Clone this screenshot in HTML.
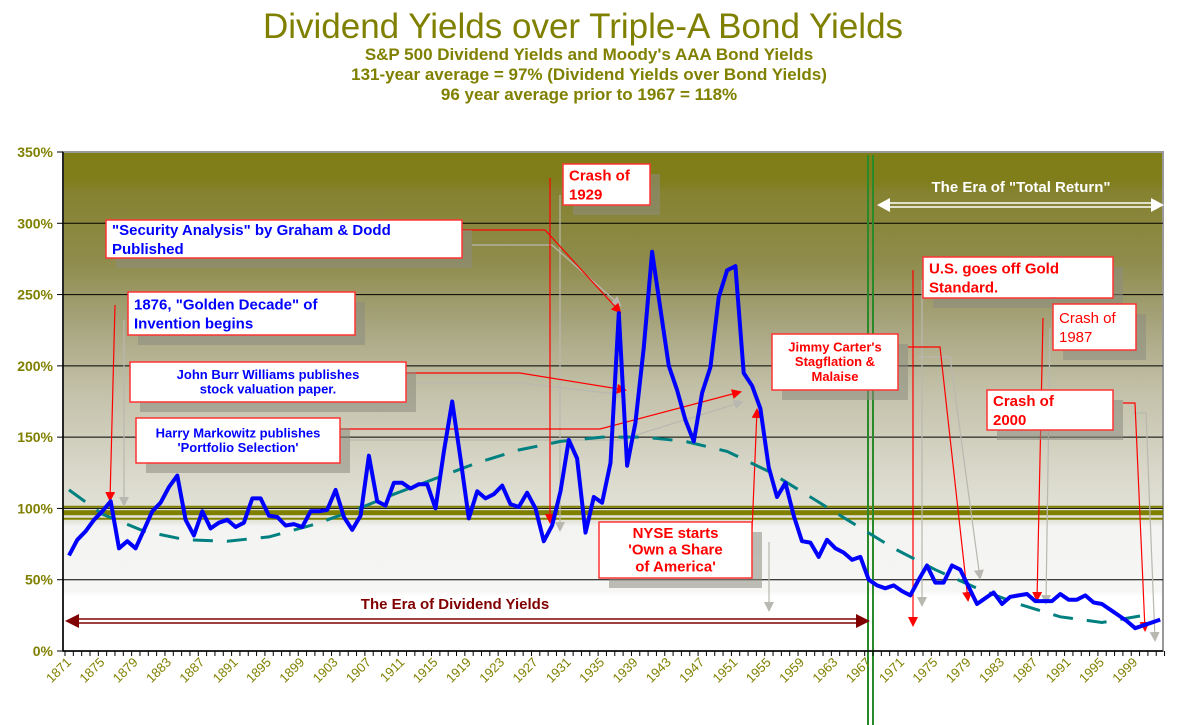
<!DOCTYPE html>
<html><head><meta charset="utf-8">
<style>
html,body{margin:0;padding:0;background:#fff;}
svg{display:block;font-family:"Liberation Sans",Arial,sans-serif;}
</style></head>
<body>
<svg id="chart" width="1178" height="725" viewBox="0 0 1178 725">
<defs>
<linearGradient id="bg" x1="0" y1="0" x2="0" y2="1">
<stop offset="0" stop-color="#7f7d15"/>
<stop offset="0.06" stop-color="#807e1c"/>
<stop offset="0.08" stop-color="#858230"/>
<stop offset="0.22" stop-color="#8f8c4c"/>
<stop offset="0.34" stop-color="#a6a37c"/>
<stop offset="0.48" stop-color="#c3c1a9"/>
<stop offset="0.62" stop-color="#d6d5c6"/>
<stop offset="0.74" stop-color="#e4e4db"/>
<stop offset="0.75" stop-color="#f3f3f1"/>
<stop offset="0.88" stop-color="#f6f6f4"/>
<stop offset="0.89" stop-color="#ffffff"/>
<stop offset="1" stop-color="#ffffff"/>
</linearGradient>
<marker id="ar" markerWidth="10" markerHeight="10" refX="8" refY="5" orient="auto" markerUnits="userSpaceOnUse"><path d="M0,0 L10,5 L0,10 z" fill="#ff0000"/></marker>
<marker id="ag" markerWidth="10" markerHeight="10" refX="8" refY="5" orient="auto" markerUnits="userSpaceOnUse"><path d="M0,0 L10,5 L0,10 z" fill="#b8b8b0"/></marker>
</defs>
<text x="583" y="38" text-anchor="middle" font-size="35" fill="#808000">Dividend Yields over Triple-A  Bond Yields</text>
<text x="589" y="60" text-anchor="middle" font-size="17" font-weight="bold" fill="#808000">S&amp;P 500 Dividend Yields and Moody's AAA Bond Yields</text>
<text x="589" y="80" text-anchor="middle" font-size="17" font-weight="bold" fill="#808000">131-year average = 97% (Dividend Yields over Bond Yields)</text>
<text x="589" y="100" text-anchor="middle" font-size="17" font-weight="bold" fill="#808000">96 year average prior to 1967 = 118%</text>
<rect x="63" y="152" width="1100" height="499" fill="url(#bg)" stroke="#999" stroke-width="2"/>
<g id="grid"></g>
<g id="bands"></g>
<g id="annot"></g>
<g id="series"></g>
<g id="axes"></g>
</svg>
<script>
const startYear = 1871;
const yieldRatio = [67,78,84,92,98,105,72,77,72,85,98,104,115,123,92,81,98,86,90,92,87,90,107,107,95,94,88,89,87,98,98,99,113,94,85,95,137,105,102,118,118,114,117,117,100,140,175,135,93,112,107,110,116,103,101,111,100,77,88,112,148,135,83,108,104,132,237,130,160,213,280,240,200,183,162,147,181,199,248,267,270,195,186,170,129,108,118,95,77,76,66,78,72,69,64,66,50,46,44,46,42,39,50,60,48,48,60,57,45,33,37,41,33,38,39,40,35,35,35,40,36,36,39,34,33,29,25,21,16,18,20,22];
const trendYears = [1871,1875,1880,1885,1890,1895,1900,1905,1910,1915,1920,1925,1930,1935,1940,1945,1950,1955,1960,1965,1970,1975,1980,1985,1990,1995,2000];
const trendVals = [113,96,84,78,77,80,88,98,110,121,132,141,147,150,150,147,140,126,108,90,72,57,44,33,24,20,25];
const yTicks = [0,50,100,150,200,250,300,350];
const yTickLabels = ["0%","50%","100%","150%","200%","250%","300%","350%"];
const xTickLabels = ["1871","1875","1879","1883","1887","1891","1895","1899","1903","1907","1911","1915","1919","1923","1927","1931","1935","1939","1943","1947","1951","1955","1959","1963","1967","1971","1975","1979","1983","1987","1991","1995","1999"];
const avgLines = [97];

const NS="http://www.w3.org/2000/svg";
const X0=65, STEP=8.33, Y0=651, YS=499/350;
function xOf(year){return X0+4+(year-startYear)*STEP;}
function yOf(v){return Y0-v*YS;}
function mk(tag,attrs,parent){const e=document.createElementNS(NS,tag);for(const k in attrs)e.setAttribute(k,attrs[k]);parent.appendChild(e);return e;}

const grid=document.getElementById('grid');
yTicks.forEach((v,i)=>{
  if(v>0&&v<350){const l=mk('line',{x1:63,x2:1163,y1:yOf(v),y2:yOf(v),stroke:'#000','stroke-width':1},grid);
  
  }
});
const bands=document.getElementById('bands');
avgLines.forEach(v=>{
  const y=yOf(v);
  const a=mk('rect',{x:63,y:y-2.5,width:1100,height:5,fill:'#808000'},bands);
  
  
  const b=mk('line',{x1:63,x2:1163,y1:y-6,y2:y-6,stroke:'#808000','stroke-width':2},bands);
  
  
  const c=mk('line',{x1:63,x2:1163,y1:y+6,y2:y+6,stroke:'#808000','stroke-width':2},bands);
  
  
});

const ann=document.getElementById('annot');
const g1=mk('line',{x1:868,x2:868,y1:155,y2:725,stroke:'#2a8a2a','stroke-width':2},ann);


const g2=mk('line',{x1:873,x2:873,y1:155,y2:725,stroke:'#2a8a2a','stroke-width':2},ann);



const grayLines=[[124,320,124,505],[472,245,552,245,620,305],[416,383,520,383,625,395],[350,440,620,440,742,402],[560,195,560,530],[769,542,769,610],[922,280,922,605],[918,357,950,357,980,578],[1050,328,1046,603],[1133,413,1146,413,1155,640]];
grayLines.forEach((p,i)=>{let d='M'+p[0]+','+p[1];for(let k=2;k<p.length;k+=2)d+=' L'+p[k]+','+p[k+1];
  const e=mk('path',{d:d,fill:'none',stroke:'#b8b8b0','stroke-width':1.2,'marker-end':'url(#ag)'},ann);
  
  });
const redLines=[[115,305,110,500],[462,230,545,230,620,312],[406,373,520,373,625,390],[340,429,600,429,740,392],[550,178,550,522],[752,532,757,410],[913,270,913,625],[908,347,940,347,968,600],[1043,318,1037,600],[1123,403,1135,403,1145,630]];
redLines.forEach(p=>{let d='M'+p[0]+','+p[1];for(let k=2;k<p.length;k+=2)d+=' L'+p[k]+','+p[k+1];
  const e=mk('path',{d:d,fill:'none',stroke:'#ff0000','stroke-width':1.2,'marker-end':'url(#ar)'},ann);
  
  });

const ea=mk('g',{},ann);


mk('line',{x1:886,x2:1155,y1:203,y2:203,stroke:'#fff','stroke-width':1.5},ea);
mk('line',{x1:886,x2:1155,y1:207,y2:207,stroke:'#fff','stroke-width':1.5},ea);
mk('path',{d:'M877,205 L890,198 L890,212 z',fill:'#fff'},ea);
mk('path',{d:'M1164,205 L1151,198 L1151,212 z',fill:'#fff'},ea);
const et=mk('text',{x:1021,y:192,'text-anchor':'middle','font-size':15,'font-weight':'bold',fill:'#fff'},ann);
et.textContent='The Era of "Total Return"';


const eb=mk('g',{},ann);


mk('line',{x1:76,x2:860,y1:619,y2:619,stroke:'#800000','stroke-width':1.5},eb);
mk('line',{x1:76,x2:860,y1:623,y2:623,stroke:'#800000','stroke-width':1.5},eb);
mk('path',{d:'M65,621 L79,614 L79,628 z',fill:'#800000'},eb);
mk('path',{d:'M870,621 L856,614 L856,628 z',fill:'#800000'},eb);
const dt=mk('text',{x:455,y:609,'text-anchor':'middle','font-size':15,'font-weight':'bold',fill:'#800000'},ann);
dt.textContent='The Era of Dividend Yields';



const boxes=[
 {n:'security-analysis-note',x:106,y:220,w:356,h:38,c:'#0000ff',fs:15,b:true,a:'start',lines:['"Security Analysis" by Graham & Dodd','Published']},
 {n:'golden-decade-note',x:128,y:292,w:227,h:43,c:'#0000ff',fs:15,b:true,a:'start',lines:['1876, "Golden Decade" of','Invention begins']},
 {n:'john-burr-williams-note',x:130,y:362,w:276,h:40,c:'#0000ff',fs:13,b:true,a:'middle',lines:['John Burr Williams publishes','stock valuation paper.']},
 {n:'markowitz-note',x:136,y:418,w:204,h:45,c:'#0000ff',fs:13,b:true,a:'middle',lines:['Harry Markowitz publishes',"'Portfolio Selection'"]},
 {n:'crash-1929-note',x:563,y:164,w:87,h:41,c:'#ff0000',fs:15,b:true,a:'start',lines:['Crash of','1929']},
 {n:'nyse-note',x:599,y:522,w:153,h:56,c:'#ff0000',fs:15,b:true,a:'middle',lines:['NYSE starts',"'Own a Share",'of America\'']},
 {n:'jimmy-carter-note',x:772,y:334,w:126,h:56,c:'#ff0000',fs:13,b:true,a:'middle',lines:["Jimmy Carter's",'Stagflation &','Malaise']},
 {n:'gold-standard-note',x:923,y:257,w:190,h:41,c:'#ff0000',fs:15,b:true,a:'start',lines:['U.S. goes off Gold','Standard.']},
 {n:'crash-1987-note',x:1053,y:304,w:83,h:46,c:'#ff0000',fs:15,b:false,a:'start',lines:['Crash of','1987']},
 {n:'crash-2000-note',x:987,y:390,w:126,h:40,c:'#ff0000',fs:15,b:true,a:'start',lines:['Crash of','2000']}
];
boxes.forEach(bx=>{
  const g=mk('g',{},ann);
  
  
  mk('rect',{x:bx.x+10,y:bx.y+10,width:bx.w,height:bx.h,fill:'#8c8c80','fill-opacity':0.55},g);
  mk('rect',{x:bx.x,y:bx.y,width:bx.w,height:bx.h,fill:'#fff',stroke:'#ff3333','stroke-width':1.5},g);
  const lh=bx.fs*1.13+(bx.lines.length===2&&bx.fs===15?2:0);
  const tot=lh*bx.lines.length;
  const top=bx.y+(bx.h-tot)/2;
  bx.lines.forEach((t,i)=>{
    const tx=mk('text',{x:bx.a==='middle'?bx.x+bx.w/2:bx.x+6,y:top+lh*(i+1)-lh*0.22,'text-anchor':bx.a,'font-size':bx.fs,'font-weight':bx.b?'bold':'normal',fill:bx.c},g);
    tx.textContent=t;
  });
});

const ser=document.getElementById('series');
let td='';trendYears.forEach((yr,i)=>{td+=(i?' L':'M')+xOf(yr).toFixed(1)+','+yOf(trendVals[i]).toFixed(1);});
const tp=mk('path',{d:td,fill:'none',stroke:'#008080','stroke-width':3,'stroke-dasharray':'20,14'},ser);


let dd='';yieldRatio.forEach((v,i)=>{dd+=(i?' L':'M')+xOf(startYear+i).toFixed(1)+','+yOf(v).toFixed(1);});
const lp=mk('path',{d:dd,fill:'none',stroke:'#0000ff','stroke-width':4,'stroke-linejoin':'round'},ser);



const ax=document.getElementById('axes');
const yl=mk('line',{x1:63,x2:63,y1:152,y2:651,stroke:'#000','stroke-width':1.5},ax);


const xl=mk('line',{x1:63,x2:1163,y1:651,y2:651,stroke:'#000','stroke-width':1.5},ax);


yTicks.forEach((v,i)=>{
  mk('line',{x1:57,x2:63,y1:yOf(v),y2:yOf(v),stroke:'#000'},ax);
  const t=mk('text',{x:53,y:yOf(v)+5,'text-anchor':'end','font-size':14,'font-weight':'bold',fill:'#808000'},ax);
  t.textContent=yTickLabels[i];
  
  
});
for(let i=0;i<=yieldRatio.length;i++){const x=X0+i*STEP;mk('line',{x1:x,x2:x,y1:651,y2:656,stroke:'#000'},ax);}
xTickLabels.forEach(lbl=>{
  const x=xOf(+lbl);
  const t=mk('text',{x:x+3,y:663,'text-anchor':'end','font-size':13,fill:'#808000',transform:'rotate(-45 '+(x+3)+' 663)'},ax);
  t.textContent=lbl;
  
  
});
</script>
</body></html>
